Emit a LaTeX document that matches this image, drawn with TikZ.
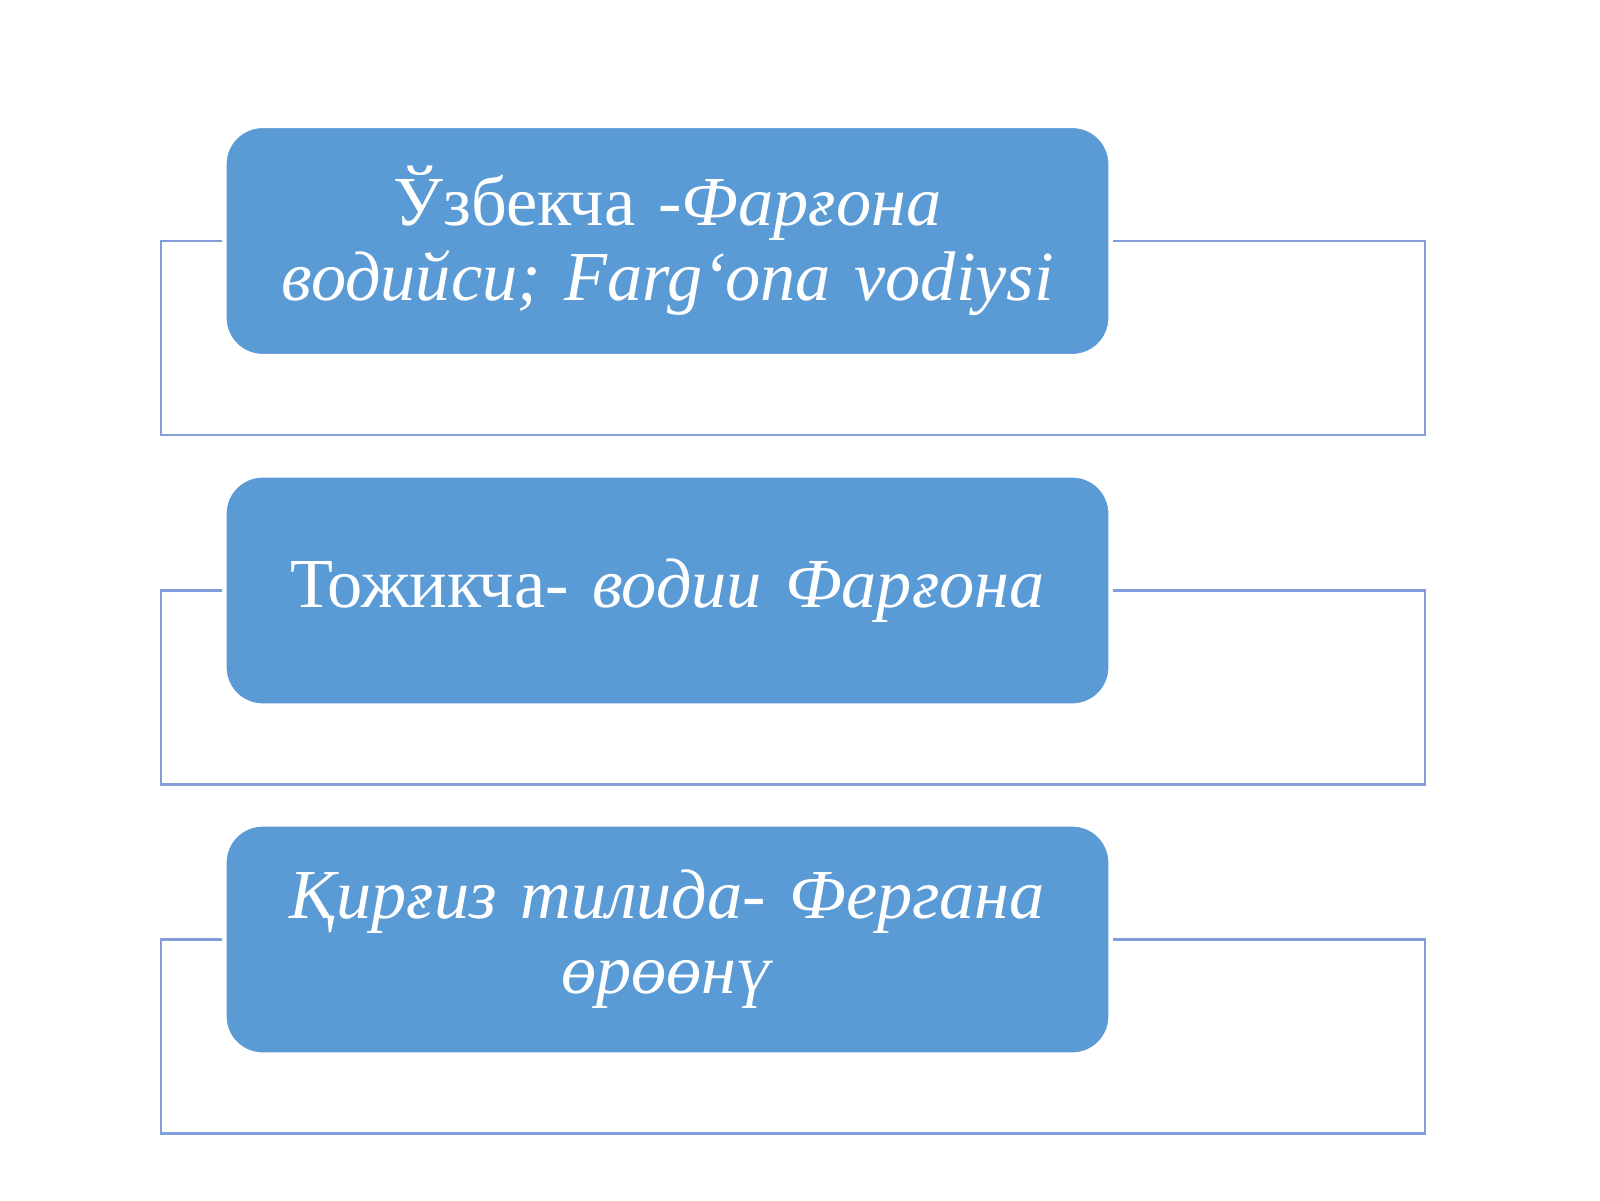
\documentclass[tikz,border=0pt]{standalone}
\usepackage{fontspec}
\setmainfont{Liberation Serif}
\definecolor{boxblue}{RGB}{91,155,213}
\definecolor{lineblue}{RGB}{130,158,218}
\tikzset{
	listbox/.style={draw=white, line width=1.2pt, fill=boxblue, rounded corners=0.38cm,
		minimum width=8.86cm, minimum height=2.3cm, text width=8.2cm, align=center,
		text=white, font=\fontsize{20}{21.3}\selectfont},
	bracket/.style={draw=lineblue, line width=0.75pt}
}
\begin{document}
\begin{tikzpicture}
	\useasboundingbox (0,0) rectangle (16,12);
	
	\foreach \i/\y/\txt in {1/9.59/{Ўзбекча -\textit{Фарғона}\\\textit{водийси; Farg‘ona vodiysi}},
		2/6.095/{Тожикча- \textit{водии Фарғона}},
		3/2.605/{\textit{Қирғиз тилида- Фергана}\\\textit{өрөөнү}}}{
		\node[listbox] (box\i) at (6.675, \y) {\txt};
		\draw[bracket] (box\i.west) -- (1.61, \y) -- (1.61, \y - 1.94) -- (14.25, \y - 1.94) -- (14.25, \y) -- (box\i.east);
	};
	
\end{tikzpicture}
\end{document}
